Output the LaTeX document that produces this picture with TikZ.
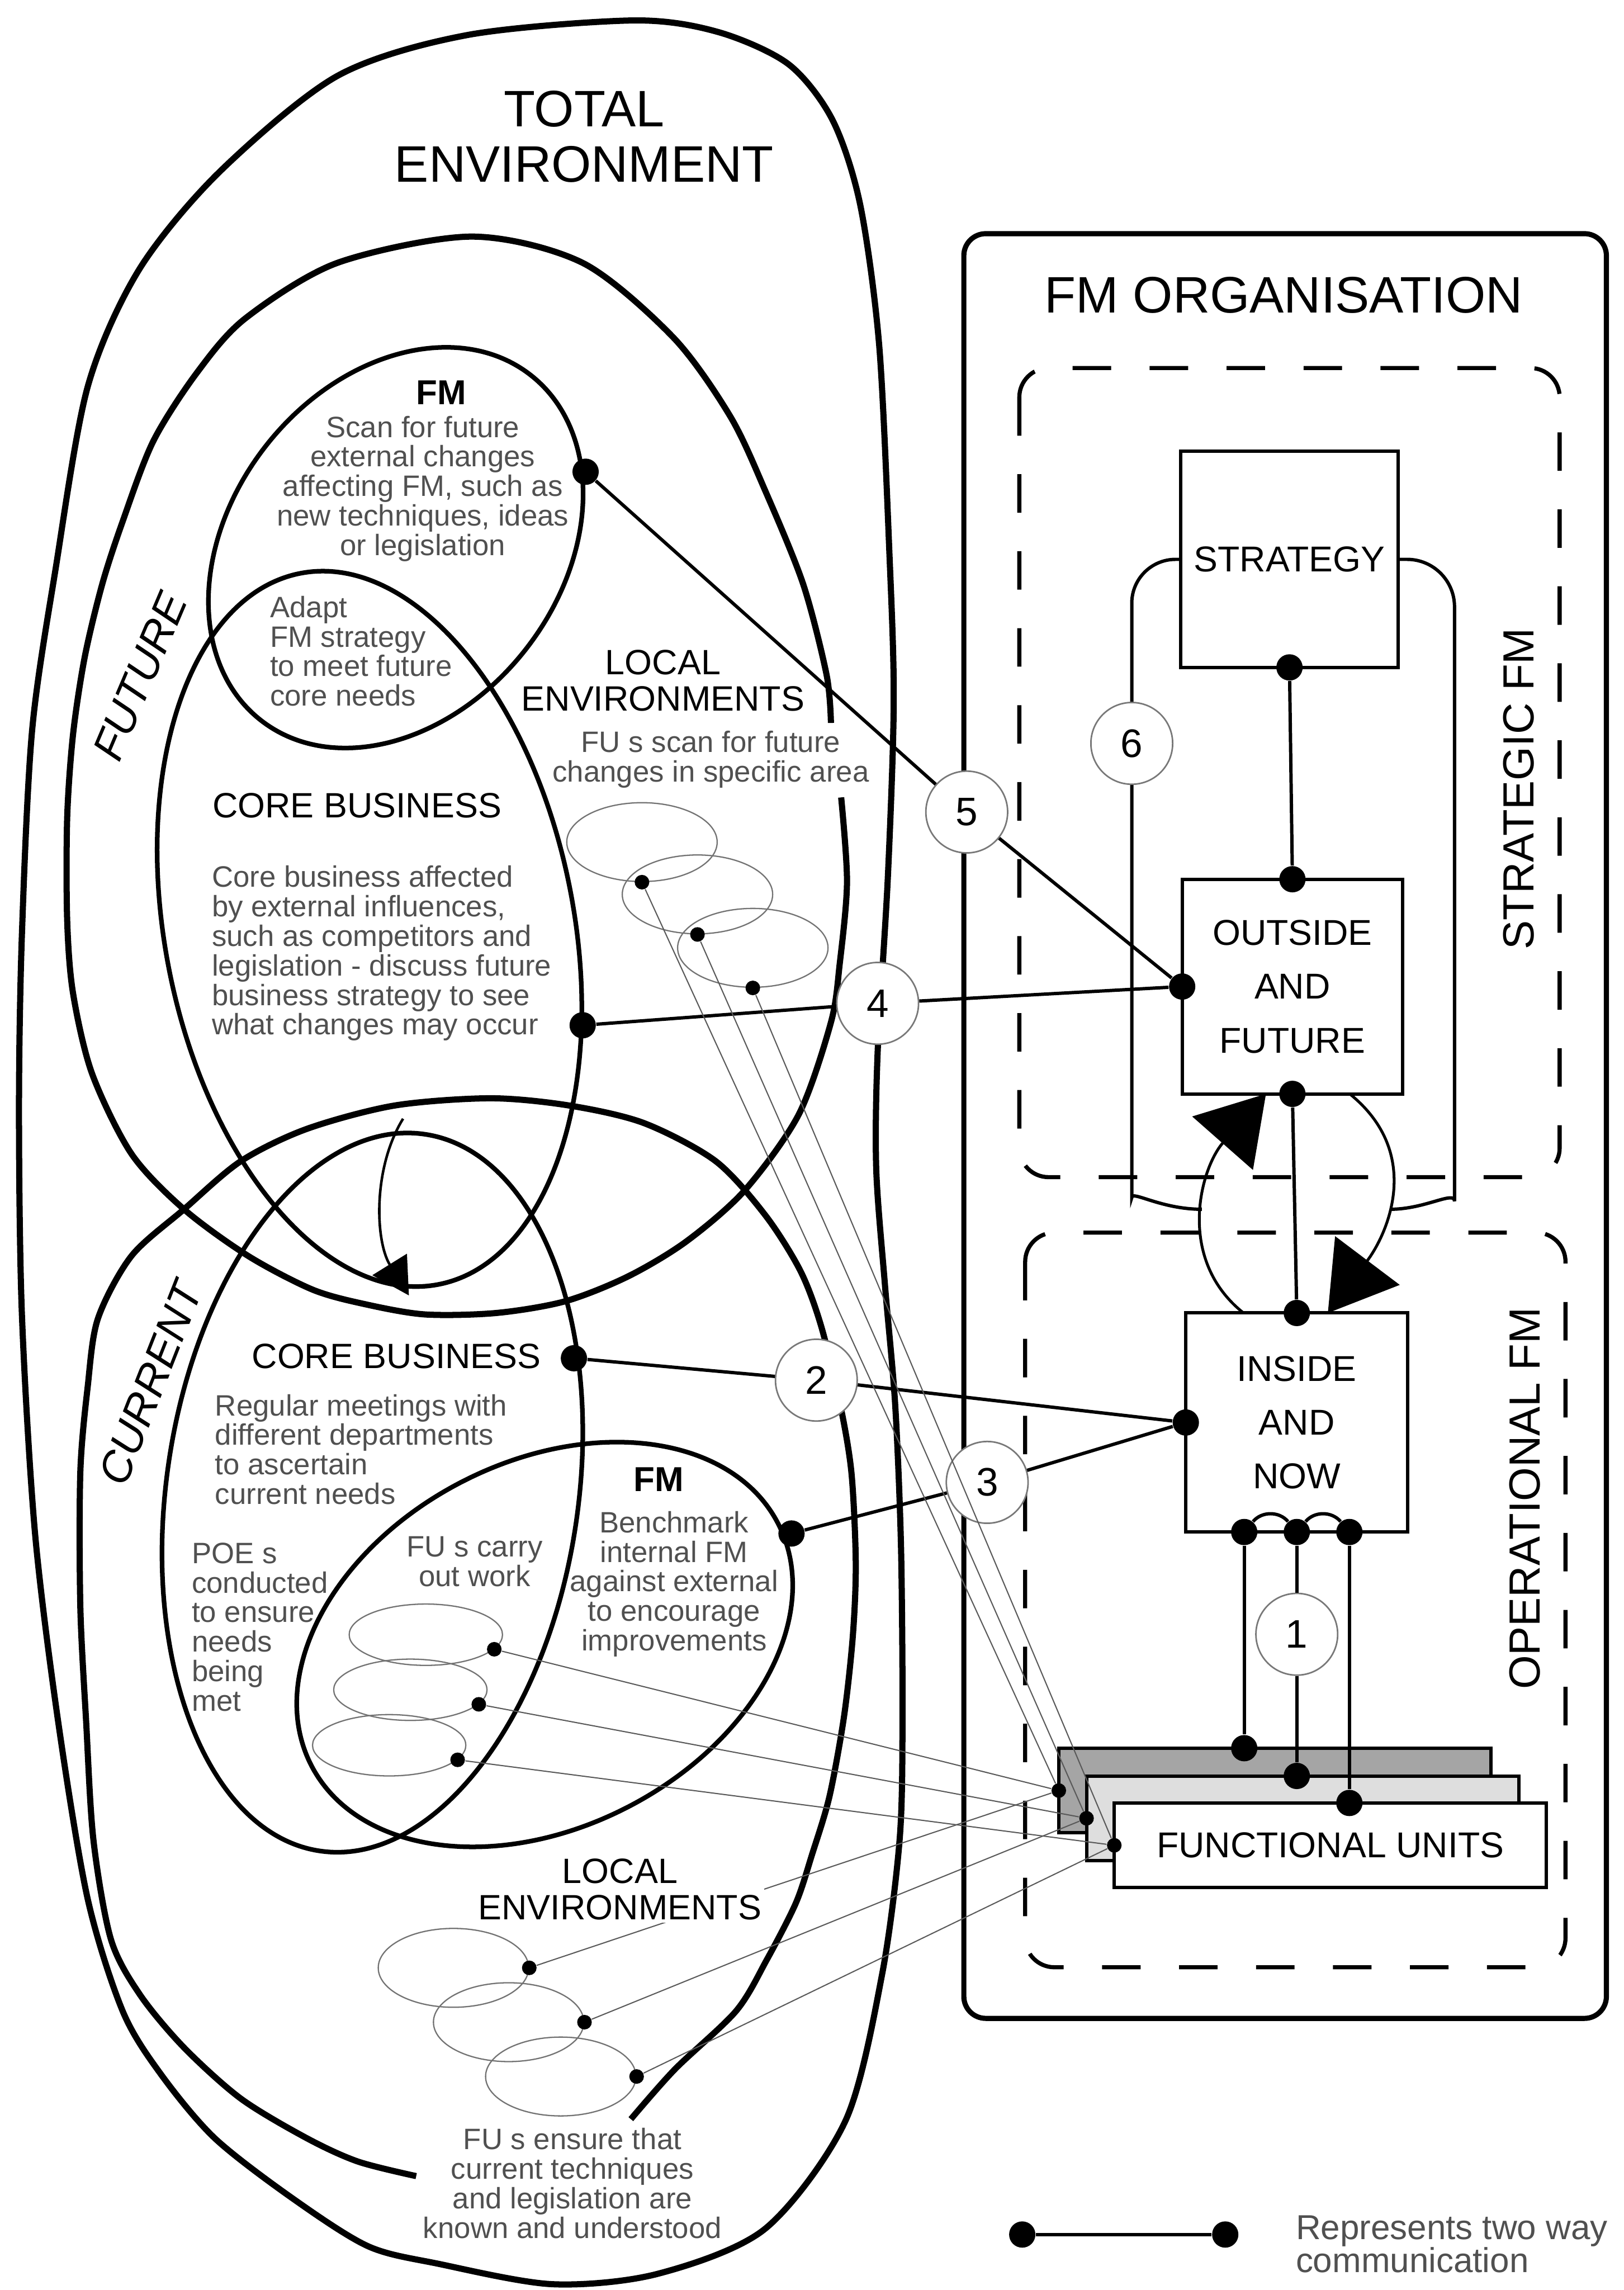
\documentclass[tikz,border=0pt]{standalone}
\usepackage{fontspec}
\setmainfont{Liberation Sans}
\definecolor{txtgray}{RGB}{80,80,80}
\definecolor{ringgray}{RGB}{120,120,120}
\definecolor{fudark}{RGB}{165,165,165}
\definecolor{fulight}{RGB}{222,222,222}
\usetikzlibrary{arrows.meta,positioning,shapes.geometric,calc}

\begin{document}
\begin{tikzpicture}[
  x=0.02cm, y=-0.02cm,
  envline/.style={line width=2.4pt,line join=round},
  inline/.style={line width=1.8pt},
  conn/.style={line width=1.3pt},
  lobe/.style={line width=1.1pt,-{Triangle[length=0.9cm,width=1.1cm]}},
  thinln/.style={line width=0.45pt,draw=black!65},
  dot/.style={circle,fill=black,inner sep=0pt,minimum size=0.36cm},
  sdot/.style={circle,fill=black,inner sep=0pt,minimum size=0.2cm},
  numc/.style={circle,draw=ringgray,line width=0.6pt,fill=white,inner sep=0pt,
               minimum size=1.12cm,font=\fontsize{15.5}{16}\selectfont},
  orgbox/.style={draw,fill=white,line width=1.3pt,inner sep=0pt,outer sep=0pt,
                 align=center,font=\fontsize{14}{21}\selectfont},
  fubox/.style={orgbox,minimum width=5.92cm,minimum height=1.16cm},
  lenv/.style={ellipse,draw=black!55,line width=0.5pt,inner sep=0pt,
               minimum width=2.06cm,minimum height=1.08cm},
  wenv/.style={lenv,minimum width=2.1cm,minimum height=0.84cm},
  dashbox/.style={line width=1.6pt,dash pattern=on 15pt off 15pt,rounded corners=0.4cm},
  head/.style={inner sep=0pt,align=center,font=\fontsize{20}{21.5}\selectfont},
  lab/.style={inner sep=0pt,align=center,font=\fontsize{13.7}{14.2}\selectfont},
  fmlab/.style={inner sep=0pt,font=\fontsize{13.5}{14}\selectfont\bfseries},
  body/.style={inner sep=0pt,text=txtgray,font=\fontsize{11.5}{11.5}\selectfont},
  side/.style={inner sep=0pt,font=\fontsize{17}{18}\selectfont\itshape},
  vlab/.style={inner sep=0pt,rotate=90,font=\fontsize{17}{18}\selectfont},
]
\useasboundingbox (0,0) rectangle (1112,1568);

% Total environment
\draw[envline] plot[smooth cycle] coordinates {
  (434,14) (492,22) (540,44) (570,82) (589,140) (602,236) (609,378) (612,480)
  (608,600) (601,720) (600,800) (606,880) (613,962) (617,1060) (618,1180)
  (616,1260) (604,1352) (579,1452) (524,1526) (450,1557) (378,1564) (300,1550)
  (252,1538) (200,1505) (147,1464) (110,1420) (84,1377) (60,1300) (40,1180)
  (24,1050) (15,900) (13,760) (15,640) (22,500) (38,390) (60,265) (95,185)
  (150,118) (231,52) (320,24)};

% Future
\draw[envline] plot[smooth] coordinates {
  (576,546) (580,604) (575,660) (569,700) (547,763) (510,815) (470,850)
  (430,874) (387,891) (340,899) (291,900) (250,893) (214,883) (170,860)
  (126,828) (90,790) (63,735) (50,680) (46,630) (46,560) (50,503) (58,450)
  (70,400) (84,357) (105,302) (135,255) (168,218) (231,180) (323,162)
  (399,180) (461,231) (500,285) (524,336) (550,400) (566,462) (569,495)};

% Current
\draw[envline] plot[smooth] coordinates {
  (285,1490) (245,1480) (210,1464) (165,1437) (126,1402) (96,1366) (76,1328)
  (64,1260) (59,1179) (55,1100) (55,1008) (60,950) (67,903) (90,860)
  (126,828) (165,795) (210,773) (270,757) (336,752) (390,757) (441,769)
  (490,795) (524,832) (548,870) (562,907) (575,960) (583,1008) (586,1070)
  (584,1120) (578,1175) (568,1230) (556,1270) (545,1303) (525,1342)
  (504,1377) (462,1417) (432,1451)};

% FM and core business
\draw[inline,rotate around={52:(271,375)}] (271,375) ellipse [x radius=150,y radius=113];
\draw[inline,rotate around={11:(253,636)}] (253,636) ellipse [x radius=140,y radius=248];
\draw[inline,rotate around={-8.3:(255,1022)}] (255,1022) ellipse [x radius=141,y radius=248];
\draw[inline,rotate around={27.5:(373,1126)}] (373,1126) ellipse [x radius=180,y radius=125];

% Future to current
\coordinate (arrS) at (276,766);
\coordinate (arrE) at (280,887);
\draw[line width=1pt,-{Triangle[length=0.5cm,width=0.55cm]}]
  (arrS) .. controls (255,800) and (257,850) .. (arrE);

% Local environments
\node[lenv] (fe1) at (439.6,576.6) {};
\node[lenv] (fe2) at (477.6,612.4) {};
\node[lenv] (fe3) at (515.5,649) {};
\node[wenv] (ce1) at (291.6,1119.3) {};
\node[wenv] (ce2) at (281,1157) {};
\node[wenv] (ce3) at (266.5,1195) {};
\node[lenv] (be1) at (310.5,1347.4) {};
\node[lenv] (be2) at (348.3,1384.6) {};
\node[lenv] (be3) at (384,1421.8) {};

% FM organisation
\draw[line width=2pt,rounded corners=0.3cm] (660,160) rectangle (1100,1382);
\node[head] (fmorg) at (879,202) {FM ORGANISATION};
\draw[dashbox] (698,252) rectangle (1068,806);
\draw[dashbox] (702,844) rectangle (1072,1347);
\node[vlab] (strl) at (1040,540) {STRATEGIC FM};
\node[vlab] (oprl) at (1044,1026) {OPERATIONAL FM};

\node[orgbox,minimum width=2.98cm,minimum height=2.96cm] (strat) at (883,383) {STRATEGY};
\node[orgbox,minimum width=3.02cm,minimum height=2.94cm] (outf) at (885,675.5) {OUTSIDE\\AND\\FUTURE};
\node[orgbox,minimum width=3.04cm,minimum height=3cm] (insn) at (888,974) {INSIDE\\AND\\NOW};
\node[fubox,fill=fudark] (fuB) at (873,1226) {};
\node[fubox,fill=fulight] (fuM) at (892,1245) {};
\node[fubox] (fuF) at (911,1263.5) {FUNCTIONAL UNITS};

% Strategy loop
\coordinate (loopL) at (775,790);
\coordinate (loopLe) at (823,828);
\coordinate (loopR) at (996,790);
\coordinate (loopRe) at (952,828);
\draw[conn,rounded corners=0.6cm] (strat.west) -| (loopL) [sharp corners]
  .. controls (775,815) and (795,828) .. (loopLe);
\draw[conn,rounded corners=0.65cm] (strat.east) -| (loopR) [sharp corners]
  .. controls (996,815) and (976,828) .. (loopRe);
\coordinate (lobeLs) at ($(insn.north west)!0.26!(insn.north east)$);
\coordinate (lobeLe) at ($(outf.south west)!0.38!(outf.south east)$);
\coordinate (lobeRs) at ($(outf.south west)!0.76!(outf.south east)$);
\coordinate (lobeRe) at ($(insn.north west)!0.64!(insn.north east)$);
\draw[lobe] (lobeLs) .. controls (805,862) and (822,800) .. (lobeLe);
\draw[lobe] (lobeRs) .. controls (975,790) and (950,845) .. (lobeRe);

% Numbered links
\node[numc] (n1) at (888,1119) {1};
\node[numc] (n2) at (559,945) {2};
\node[numc] (n3) at (676,1015) {3};
\node[numc] (n4) at (601,687) {4};
\node[numc] (n5) at (662,556) {5};
\node[numc] (n6) at (775,509) {6};

% Dots
\node[dot] (fmFd) at (401,323) {};
\node[dot] (cbFd) at (399,702) {};
\node[dot] (cbCd) at (393,930) {};
\node[dot] (fmCd) at (542,1050) {};
\node[dot] (sS) at (strat.south) {};
\node[dot] (oN) at (outf.north) {};
\node[dot] (oW) at (outf.west) {};
\node[dot] (oS) at (outf.south) {};
\node[dot] (iN) at (insn.north) {};
\node[dot] (iW) at (insn.west) {};
\node[dot] (iS1) at ($(insn.south)+(-36,0)$) {};
\node[dot] (iS2) at (insn.south) {};
\node[dot] (iS3) at ($(insn.south)+(36,0)$) {};
\node[dot] (fT1) at (iS1 |- fuB.north) {};
\node[dot] (fT2) at (iS2 |- fuM.north) {};
\node[dot] (fT3) at (iS3 |- fuF.north) {};
\node[sdot] (fW1) at (fuB.west) {};
\node[sdot] (fW2) at (fuM.west) {};
\node[sdot] (fW3) at (fuF.west) {};
\node[sdot] (fd1) at (fe1.south) {};
\node[sdot] (fd2) at (fe2.south) {};
\node[sdot] (fd3) at (fe3.south) {};
\node[sdot] (cd1) at (ce1.-12) {};
\node[sdot] (cd2) at (ce2.-12) {};
\node[sdot] (cd3) at (ce3.-12) {};
\node[sdot] (bd1) at (be1.east) {};
\node[sdot] (bd2) at (be2.east) {};
\node[sdot] (bd3) at (be3.east) {};

% Connectors
\draw[conn] (fmFd) -- (n5) -- (oW);
\draw[conn] (cbFd) -- (n4) -- (oW);
\draw[conn] (cbCd) -- (n2) -- (iW);
\draw[conn] (fmCd) -- (n3) -- (iW);
\draw[conn] (sS) -- (oN);
\draw[conn] (oS) -- (iN);
\draw[conn] (iS1) -- (fT1);
\draw[conn] (iS2) -- (n1) -- (fT2);
\draw[conn] (iS3) -- (fT3);
\draw[conn] (iS1) to[out=50,in=130] (iS2);
\draw[conn] (iS2) to[out=50,in=130] (iS3);
\draw[thinln] (fd1) -- (fW1);
\draw[thinln] (fd2) -- (fW2);
\draw[thinln] (fd3) -- (fW3);
\draw[thinln] (cd1) -- (fW1);
\draw[thinln] (cd2) -- (fW2);
\draw[thinln] (cd3) -- (fW3);
\draw[thinln] (bd1) -- (fW1);
\draw[thinln] (bd2) -- (fW2);
\draw[thinln] (bd3) -- (fW3);

% Left labels
\node[head] (totl) at (400,93.5) {TOTAL\\ENVIRONMENT};
\node[side,rotate=67] (futl) at (96,463) {FUTURE};
\node[side,rotate=68.5] (curl) at (103,947) {CURRENT};
\node[fmlab,anchor=base] (fmFl) at (302,277) {FM};
\node[body,align=center,anchor=base] (fmFt) at (289.5,380.2)
  {Scan for future\\external changes\\affecting FM, such as\\new techniques, ideas\\or legislation};
\node[body,align=left,anchor=base west] (adapt) at (184.6,483.4)
  {Adapt\\FM strategy\\to meet future\\core needs};
\node[lab,anchor=base] (locFl) at (454,486.7) {LOCAL\\ENVIRONMENTS};
\node[body,align=center,anchor=base] (scan) at (486.7,535.3)
  {FU s scan for future\\changes in specific area};
\node[lab,anchor=base] (cbFl) at (244.5,560) {CORE BUSINESS};
\node[body,align=left,anchor=base west] (cbFt) at (144.8,708.5)
  {Core business affected\\by external influences,\\such as competitors and\\legislation - discuss future\\business strategy to see\\what changes may occur};
\node[lab,anchor=base] (cbCl) at (271.5,937) {CORE BUSINESS};
\node[body,align=left,anchor=base west] (cbCt) at (147,1029.9)
  {Regular meetings with\\different departments\\to ascertain\\current needs};
\node[fmlab,anchor=base] (fmCl) at (451,1021) {FM};
\node[body,align=center,anchor=base] (fmCt) at (461.6,1130.2)
  {Benchmark\\internal FM\\against external\\to encourage\\improvements};
\node[body,align=left,anchor=base west] (poe) at (131,1171.5)
  {POE s\\conducted\\to ensure\\needs\\being\\met};
\node[body,align=center,anchor=base] (carry) at (325,1086.3) {FU s carry\\out work};
\node[lab,anchor=base,fill=white,inner sep=1pt] (locCl) at (424.5,1314.5) {LOCAL\\ENVIRONMENTS};
\node[body,align=center,anchor=base] (ensure) at (392,1532.4)
  {FU s ensure that\\current techniques\\and legislation are\\known and understood};

% Legend
\node[dot] (lg1) at (700,1530) {};
\node[dot] (lg2) at (839,1530) {};
\draw[conn] (lg1) -- (lg2);
\node[body,align=left,anchor=base west,font=\fontsize{13.5}{12.8}\selectfont] (lgt) at (887,1556)
  {Represents two way\\communication};
\end{tikzpicture}
\end{document}
